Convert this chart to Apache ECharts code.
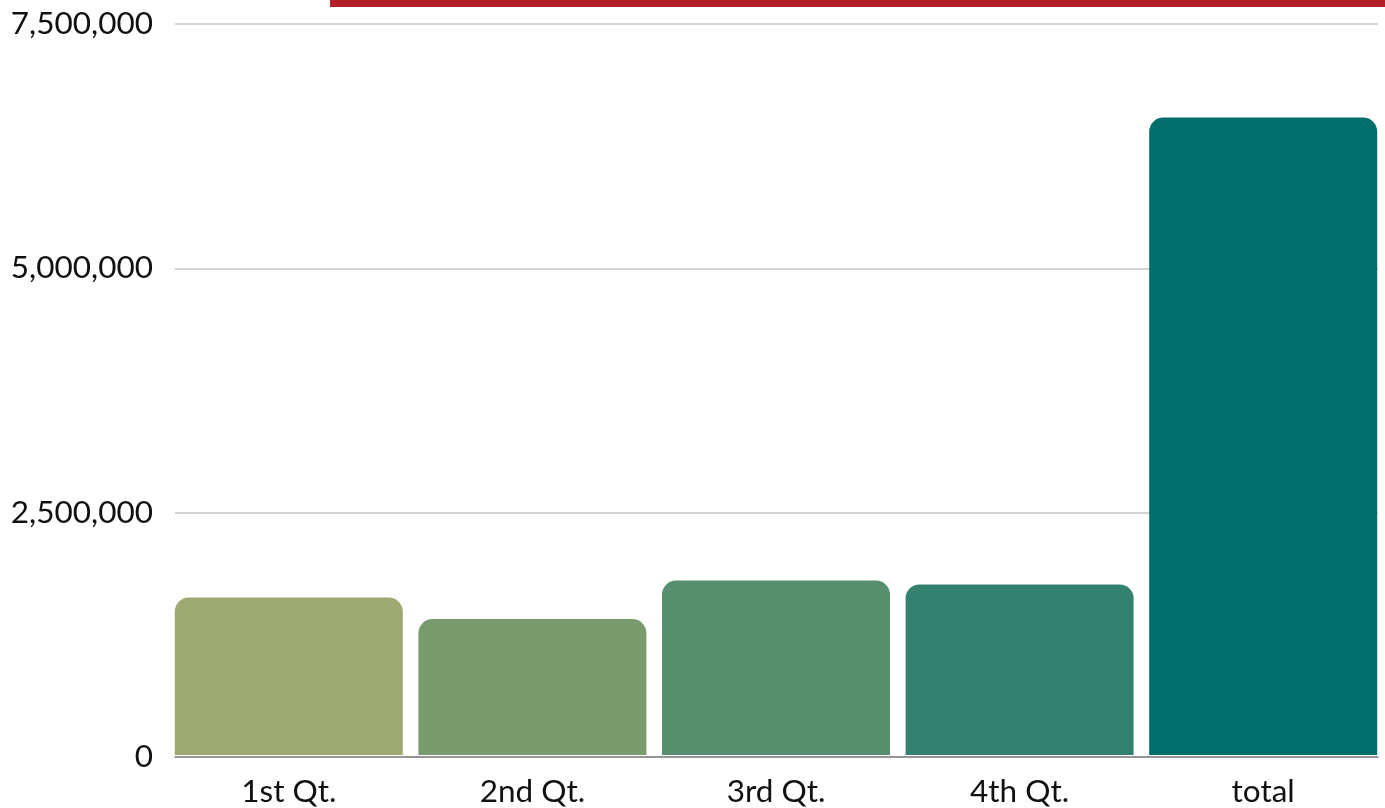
<!DOCTYPE html>
<html>
<head>
<meta charset="utf-8">
<script src="https://cdn.jsdelivr.net/npm/echarts@6/dist/echarts.min.js"></script>
<style>
	html, body { margin: 0; padding: 0; background: #fff; }
	#chart { width: 1385px; height: 808px; }
</style>
</head>
<body>
<div id="chart"></div>
<script>
// 分类与数值
var categories = ["1st Qt.", "2nd Qt.", "3rd Qt.", "4th Qt.", "total"];
var values = [1615000, 1395000, 1790000, 1750000, 6540000];
var barColors = ["#9da872", "#7a9b6d", "#568f6d", "#33816f", "#006f6c"];
var yTicks = [0, 2500000, 5000000, 7500000];

var yMax = yTicks[yTicks.length - 1];
var yStep = yTicks[1] - yTicks[0];

var chart = echarts.init(document.getElementById("chart"));

var option = {
	textStyle: { fontFamily: "Lato, sans-serif" },
	animation: false,
	// 两个网格：0 画坐标轴与网格线，1 画柱子与分类标签
	grid: [
		{ left: 175, right: 7, top: 24, bottom: 51 },
		{ left: 167, right: 0, top: 24, bottom: 51 }
	],
	graphic: [
		{
			type: "rect",
			shape: { x: 330, y: 0, width: 1055, height: 7 },
			style: { fill: "#b41f27" }
		}
	],
	xAxis: [
		{
			type: "category",
			gridIndex: 0,
			data: categories,
			axisLine: { show: true, lineStyle: { color: "#808080", width: 1.5 } },
			axisTick: { show: false },
			axisLabel: { show: false }
		},
		{
			type: "category",
			gridIndex: 1,
			data: categories,
			axisLine: { show: false },
			axisTick: { show: false },
			axisLabel: {
				fontSize: 31.5,
				color: "#111",
				margin: 21,
				fontFamily: "Lato, sans-serif"
			}
		}
	],
	yAxis: [
		{
			type: "value",
			gridIndex: 0,
			min: 0,
			max: yMax,
			interval: yStep,
			axisLine: { show: false },
			axisTick: { show: false },
			splitLine: { lineStyle: { color: "#c6c6c6", width: 1.5 } },
			axisLabel: {
				fontSize: 31.5,
				color: "#111",
				margin: 22,
				fontFamily: "Lato, sans-serif",
				formatter: function (v) {
					return v.toLocaleString("en-US");
				}
			}
		},
		{
			type: "value",
			gridIndex: 1,
			min: 0,
			max: yMax,
			interval: yStep,
			show: false,
			splitLine: { show: false }
		}
	],
	series: [
		{
			type: "bar",
			xAxisIndex: 1,
			yAxisIndex: 1,
			barWidth: 228,
			data: values.map(function (v, i) {
				return { value: v, itemStyle: { color: barColors[i] } };
			}),
			itemStyle: { borderRadius: [14, 14, 0, 0] }
		}
	]
};

chart.setOption(option);
window.addEventListener("resize", chart.resize);
</script>
</body>
</html>
